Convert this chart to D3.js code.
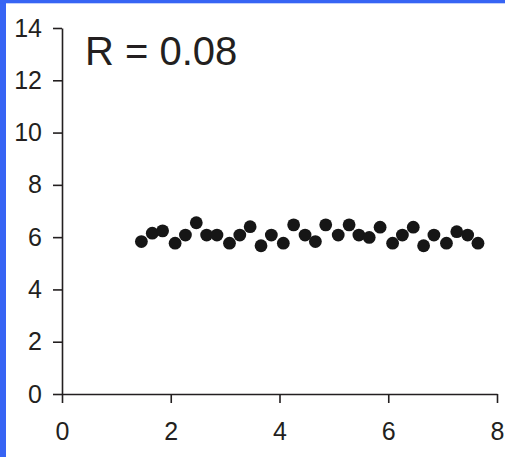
<!DOCTYPE html>
<html>
<head>
<meta charset="utf-8">
<script src="https://cdn.jsdelivr.net/npm/d3@7"></script>
<style>
  html, body { margin: 0; padding: 0; background: #fff; }
  svg { display: block; }
</style>
</head>
<body>
<svg id="chart" width="505" height="457"></svg>
<script>
// Scatter data: x and y of each observation
const xValues = [1.46, 1.66, 1.85, 2.08, 2.27, 2.47, 2.66, 2.85, 3.08, 3.27, 3.46, 3.66,
                 3.85, 4.07, 4.26, 4.47, 4.66, 4.85, 5.08, 5.28, 5.46, 5.65, 5.85, 6.08,
                 6.26, 6.46, 6.65, 6.84, 7.07, 7.26, 7.46, 7.65];
const yValues = [5.83, 6.15, 6.24, 5.77, 6.08, 6.55, 6.08, 6.08, 5.77, 6.08, 6.40, 5.67,
                 6.08, 5.77, 6.47, 6.08, 5.83, 6.47, 6.08, 6.47, 6.08, 5.99, 6.38, 5.77,
                 6.08, 6.38, 5.67, 6.08, 5.77, 6.21, 6.08, 5.77];
const xTicks = [0, 2, 4, 6, 8];
const yTicks = [0, 2, 4, 6, 8, 10, 12, 14];
const rLabel = "R = 0.08";

const svg = d3.select("#chart");
const ink = "#231f20";
const font = "Liberation Sans, Arial, sans-serif";

// blue frame along the left and top edges
svg.append("rect").attr("x", 0).attr("y", 0).attr("width", 6).attr("height", 457).attr("fill", "#3764f4");
svg.append("rect").attr("x", 0).attr("y", 0).attr("width", 505).attr("height", 3.3).attr("fill", "#3764f4");

const x = d3.scaleLinear().domain([0, 8]).range([62, 497]);
const y = d3.scaleLinear().domain([0, 14]).range([394, 28]);

const xAxis = svg.append("g")
  .attr("transform", `translate(0,${y(0)})`)
  .call(d3.axisBottom(x).tickValues(xTicks).tickSize(9).tickPadding(19).tickSizeOuter(0));
const yAxis = svg.append("g")
  .attr("transform", `translate(${x(0)},0)`)
  .call(d3.axisLeft(y).tickValues(yTicks).tickSize(9).tickPadding(11).tickSizeOuter(0));

[xAxis, yAxis].forEach(g => {
  g.attr("font-size", 25).attr("font-family", font);
  g.select(".domain").attr("stroke", ink).attr("stroke-width", 1.6);
  g.selectAll(".tick line").attr("stroke", ink).attr("stroke-width", 1.6);
  g.selectAll(".tick text").attr("fill", ink);
});

// points
svg.append("g").selectAll("circle")
  .data(xValues.map((v, i) => [v, yValues[i]]))
  .join("circle")
  .attr("cx", d => x(d[0]))
  .attr("cy", d => y(d[1]))
  .attr("r", 6.4)
  .attr("fill", "#161616");

// correlation annotation
svg.append("text")
  .attr("x", 85).attr("y", 65)
  .attr("font-family", font)
  .attr("font-size", 40)
  .attr("fill", ink)
  .text(rLabel);
</script>
</body>
</html>
